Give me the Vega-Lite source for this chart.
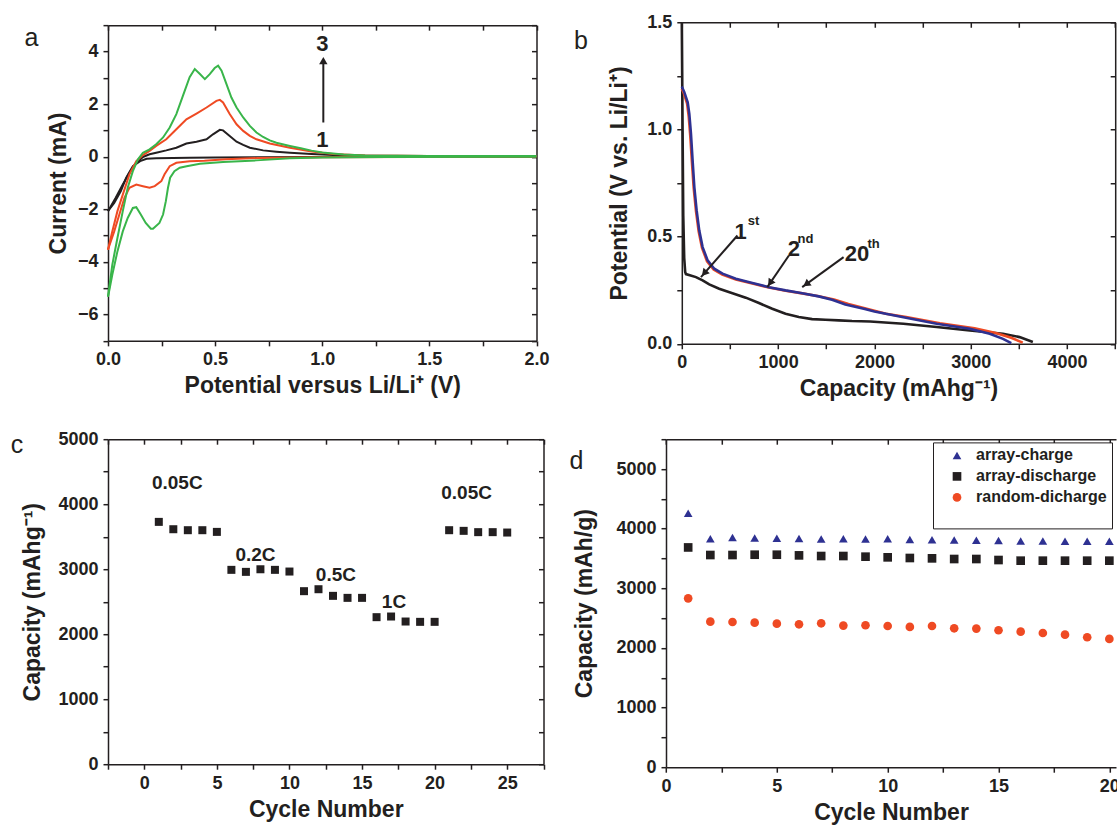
{
"$schema": "https://vega.github.io/schema/vega-lite/v6.json",
"padding": {"left": 10, "top": 13, "right": 0, "bottom": 0},
"background": "white",
"config": {
 "view": {"stroke": null},
 "font": "Liberation Sans",
 "axis": {"labelFont": "Liberation Sans", "labelFontWeight": "bold", "labelFontSize": 18, "labelColor": "#231f20", "titleFont": "Liberation Sans", "titleFontWeight": "bold", "titleFontSize": 23, "titleColor": "#231f20", "domainColor": "#231f20", "domainWidth": 1.5, "tickColor": "#231f20", "tickWidth": 1.5, "tickSize": 5, "grid": false, "labelOverlap": false, "labelFlush": false, "labelPadding": 5, "titlePadding": 6},
 "title": {"font": "Liberation Sans", "fontSize": 25, "fontWeight": "normal", "color": "#231f20", "anchor": "start", "frame": "group", "baseline": "alphabetic", "offset": 0}
},
"datasets": {
 "cv": [
  {"c":"1","b":"up","v":0,"I":-2.07},{"c":"1","b":"up","v":0.036,"I":-1.56},{"c":"1","b":"up","v":0.069,"I":-1.06},{"c":"1","b":"up","v":0.1,"I":-0.61},{"c":"1","b":"up","v":0.132,"I":-0.23},{"c":"1","b":"up","v":0.163,"I":-0.01},{"c":"1","b":"up","v":0.194,"I":0.09},{"c":"1","b":"up","v":0.225,"I":0.15},{"c":"1","b":"up","v":0.272,"I":0.24},{"c":"1","b":"up","v":0.319,"I":0.34},{"c":"1","b":"up","v":0.366,"I":0.5},{"c":"1","b":"up","v":0.413,"I":0.57},{"c":"1","b":"up","v":0.46,"I":0.66},{"c":"1","b":"up","v":0.49,"I":0.85},{"c":"1","b":"up","v":0.522,"I":1.02},{"c":"1","b":"up","v":0.537,"I":1.0},{"c":"1","b":"up","v":0.568,"I":0.79},{"c":"1","b":"up","v":0.6,"I":0.57},{"c":"1","b":"up","v":0.631,"I":0.45},{"c":"1","b":"up","v":0.662,"I":0.34},{"c":"1","b":"up","v":0.724,"I":0.24},{"c":"1","b":"up","v":0.786,"I":0.19},{"c":"1","b":"up","v":0.849,"I":0.15},{"c":"1","b":"up","v":0.95,"I":0.1},{"c":"1","b":"up","v":1.05,"I":0.06},{"c":"1","b":"up","v":1.2,"I":0.04},{"c":"1","b":"up","v":1.5,"I":0.03},{"c":"1","b":"up","v":2.0,"I":0.02},
  {"c":"1","b":"dn","v":0,"I":-2.07},{"c":"1","b":"dn","v":0.005,"I":-2.01},{"c":"1","b":"dn","v":0.029,"I":-1.76},{"c":"1","b":"dn","v":0.06,"I":-1.31},{"c":"1","b":"dn","v":0.085,"I":-0.8},{"c":"1","b":"dn","v":0.116,"I":-0.36},{"c":"1","b":"dn","v":0.15,"I":-0.17},{"c":"1","b":"dn","v":0.18,"I":-0.08},{"c":"1","b":"dn","v":0.225,"I":-0.06},{"c":"1","b":"dn","v":0.381,"I":-0.04},{"c":"1","b":"dn","v":0.5,"I":-0.03},{"c":"1","b":"dn","v":1.0,"I":-0.01},{"c":"1","b":"dn","v":2.0,"I":0.0},
  {"c":"2","b":"up","v":0,"I":-3.54},{"c":"2","b":"up","v":0.02,"I":-2.84},{"c":"2","b":"up","v":0.044,"I":-2.07},{"c":"2","b":"up","v":0.069,"I":-1.44},{"c":"2","b":"up","v":0.1,"I":-0.67},{"c":"2","b":"up","v":0.132,"I":-0.17},{"c":"2","b":"up","v":0.163,"I":0.06},{"c":"2","b":"up","v":0.194,"I":0.22},{"c":"2","b":"up","v":0.225,"I":0.41},{"c":"2","b":"up","v":0.272,"I":0.66},{"c":"2","b":"up","v":0.319,"I":1.04},{"c":"2","b":"up","v":0.366,"I":1.42},{"c":"2","b":"up","v":0.413,"I":1.64},{"c":"2","b":"up","v":0.46,"I":1.87},{"c":"2","b":"up","v":0.506,"I":2.12},{"c":"2","b":"up","v":0.522,"I":2.16},{"c":"2","b":"up","v":0.537,"I":2.06},{"c":"2","b":"up","v":0.568,"I":1.62},{"c":"2","b":"up","v":0.6,"I":1.23},{"c":"2","b":"up","v":0.631,"I":0.98},{"c":"2","b":"up","v":0.662,"I":0.79},{"c":"2","b":"up","v":0.693,"I":0.66},{"c":"2","b":"up","v":0.755,"I":0.5},{"c":"2","b":"up","v":0.849,"I":0.34},{"c":"2","b":"up","v":0.95,"I":0.2},{"c":"2","b":"up","v":1.05,"I":0.1},{"c":"2","b":"up","v":1.2,"I":0.05},{"c":"2","b":"up","v":1.5,"I":0.03},{"c":"2","b":"up","v":2.0,"I":0.03},
  {"c":"2","b":"dn","v":0,"I":-3.54},{"c":"2","b":"dn","v":0.005,"I":-3.41},{"c":"2","b":"dn","v":0.029,"I":-2.84},{"c":"2","b":"dn","v":0.053,"I":-2.2},{"c":"2","b":"dn","v":0.077,"I":-1.56},{"c":"2","b":"dn","v":0.1,"I":-1.18},{"c":"2","b":"dn","v":0.132,"I":-1.06},{"c":"2","b":"dn","v":0.163,"I":-1.12},{"c":"2","b":"dn","v":0.194,"I":-1.18},{"c":"2","b":"dn","v":0.218,"I":-1.12},{"c":"2","b":"dn","v":0.249,"I":-0.93},{"c":"2","b":"dn","v":0.264,"I":-0.67},{"c":"2","b":"dn","v":0.288,"I":-0.36},{"c":"2","b":"dn","v":0.319,"I":-0.23},{"c":"2","b":"dn","v":0.381,"I":-0.17},{"c":"2","b":"dn","v":0.45,"I":-0.15},{"c":"2","b":"dn","v":0.55,"I":-0.1},{"c":"2","b":"dn","v":0.7,"I":-0.05},{"c":"2","b":"dn","v":1.0,"I":-0.02},{"c":"2","b":"dn","v":2.0,"I":0.0},
  {"c":"3","b":"up","v":0,"I":-5.32},{"c":"3","b":"up","v":0.02,"I":-4.11},{"c":"3","b":"up","v":0.044,"I":-3.09},{"c":"3","b":"up","v":0.069,"I":-2.07},{"c":"3","b":"up","v":0.092,"I":-1.18},{"c":"3","b":"up","v":0.116,"I":-0.55},{"c":"3","b":"up","v":0.14,"I":-0.1},{"c":"3","b":"up","v":0.163,"I":0.15},{"c":"3","b":"up","v":0.194,"I":0.28},{"c":"3","b":"up","v":0.225,"I":0.47},{"c":"3","b":"up","v":0.257,"I":0.73},{"c":"3","b":"up","v":0.288,"I":1.11},{"c":"3","b":"up","v":0.319,"I":1.62},{"c":"3","b":"up","v":0.35,"I":2.32},{"c":"3","b":"up","v":0.381,"I":3.02},{"c":"3","b":"up","v":0.405,"I":3.33},{"c":"3","b":"up","v":0.429,"I":3.14},{"c":"3","b":"up","v":0.452,"I":2.95},{"c":"3","b":"up","v":0.475,"I":3.14},{"c":"3","b":"up","v":0.498,"I":3.37},{"c":"3","b":"up","v":0.514,"I":3.46},{"c":"3","b":"up","v":0.53,"I":3.27},{"c":"3","b":"up","v":0.553,"I":2.76},{"c":"3","b":"up","v":0.576,"I":2.25},{"c":"3","b":"up","v":0.6,"I":1.87},{"c":"3","b":"up","v":0.631,"I":1.49},{"c":"3","b":"up","v":0.662,"I":1.17},{"c":"3","b":"up","v":0.693,"I":0.92},{"c":"3","b":"up","v":0.724,"I":0.75},{"c":"3","b":"up","v":0.755,"I":0.62},{"c":"3","b":"up","v":0.786,"I":0.53},{"c":"3","b":"up","v":0.849,"I":0.41},{"c":"3","b":"up","v":0.9,"I":0.32},{"c":"3","b":"up","v":0.95,"I":0.23},{"c":"3","b":"up","v":1.0,"I":0.16},{"c":"3","b":"up","v":1.1,"I":0.08},{"c":"3","b":"up","v":1.2,"I":0.05},{"c":"3","b":"up","v":1.5,"I":0.03},{"c":"3","b":"up","v":2.0,"I":0.03},
  {"c":"3","b":"dn","v":0,"I":-5.32},{"c":"3","b":"dn","v":0.005,"I":-5.13},{"c":"3","b":"dn","v":0.02,"I":-4.49},{"c":"3","b":"dn","v":0.044,"I":-3.6},{"c":"3","b":"dn","v":0.069,"I":-2.84},{"c":"3","b":"dn","v":0.092,"I":-2.33},{"c":"3","b":"dn","v":0.116,"I":-1.95},{"c":"3","b":"dn","v":0.132,"I":-1.92},{"c":"3","b":"dn","v":0.153,"I":-2.2},{"c":"3","b":"dn","v":0.176,"I":-2.52},{"c":"3","b":"dn","v":0.2,"I":-2.74},{"c":"3","b":"dn","v":0.21,"I":-2.74},{"c":"3","b":"dn","v":0.24,"I":-2.52},{"c":"3","b":"dn","v":0.257,"I":-2.2},{"c":"3","b":"dn","v":0.27,"I":-1.69},{"c":"3","b":"dn","v":0.28,"I":-1.18},{"c":"3","b":"dn","v":0.29,"I":-0.8},{"c":"3","b":"dn","v":0.31,"I":-0.55},{"c":"3","b":"dn","v":0.335,"I":-0.42},{"c":"3","b":"dn","v":0.367,"I":-0.36},{"c":"3","b":"dn","v":0.429,"I":-0.27},{"c":"3","b":"dn","v":0.537,"I":-0.2},{"c":"3","b":"dn","v":0.693,"I":-0.14},{"c":"3","b":"dn","v":0.849,"I":-0.06},{"c":"3","b":"dn","v":1.0,"I":-0.03},{"c":"3","b":"dn","v":1.3,"I":-0.01},{"c":"3","b":"dn","v":2.0,"I":0.0}
 ],
 "aText": [{"t":"3","v":1.0,"I":4.3},{"t":"1","v":1.0,"I":0.62}],
 "aArrow": [{"v":1.005,"I":1.3,"I2":3.6}],
 "aHead": [{"v":1.005,"I":3.65}],
 "gd": [
  {"s":"1st","x":0,"y":1.5},{"s":"1st","x":8,"y":1.0},{"s":"1st","x":15,"y":0.6},{"s":"1st","x":25,"y":0.4},{"s":"1st","x":35,"y":0.335},{"s":"1st","x":43,"y":0.325},{"s":"1st","x":147,"y":0.311},{"s":"1st","x":216,"y":0.296},{"s":"1st","x":285,"y":0.277},{"s":"1st","x":388,"y":0.257},{"s":"1st","x":526,"y":0.236},{"s":"1st","x":664,"y":0.215},{"s":"1st","x":801,"y":0.19},{"s":"1st","x":939,"y":0.163},{"s":"1st","x":1077,"y":0.14},{"s":"1st","x":1215,"y":0.125},{"s":"1st","x":1353,"y":0.115},{"s":"1st","x":1491,"y":0.112},{"s":"1st","x":1629,"y":0.109},{"s":"1st","x":1767,"y":0.106},{"s":"1st","x":1956,"y":0.104},{"s":"1st","x":2301,"y":0.093},{"s":"1st","x":2646,"y":0.078},{"s":"1st","x":2990,"y":0.062},{"s":"1st","x":3335,"y":0.047},{"s":"1st","x":3507,"y":0.031},{"s":"1st","x":3645,"y":0.008},
  {"s":"2nd","x":0,"y":1.19},{"s":"2nd","x":20,"y":1.17},{"s":"2nd","x":55,"y":1.12},{"s":"2nd","x":72,"y":1.06},{"s":"2nd","x":88,"y":0.97},{"s":"2nd","x":105,"y":0.85},{"s":"2nd","x":123,"y":0.73},{"s":"2nd","x":147,"y":0.62},{"s":"2nd","x":175,"y":0.525},{"s":"2nd","x":210,"y":0.447},{"s":"2nd","x":262,"y":0.385},{"s":"2nd","x":330,"y":0.346},{"s":"2nd","x":420,"y":0.323},{"s":"2nd","x":561,"y":0.3},{"s":"2nd","x":733,"y":0.281},{"s":"2nd","x":905,"y":0.262},{"s":"2nd","x":1077,"y":0.247},{"s":"2nd","x":1250,"y":0.235},{"s":"2nd","x":1422,"y":0.222},{"s":"2nd","x":1580,"y":0.207},{"s":"2nd","x":1730,"y":0.185},{"s":"2nd","x":1930,"y":0.162},{"s":"2nd","x":2120,"y":0.14},{"s":"2nd","x":2330,"y":0.125},{"s":"2nd","x":2680,"y":0.095},{"s":"2nd","x":3040,"y":0.072},{"s":"2nd","x":3260,"y":0.05},{"s":"2nd","x":3420,"y":0.028},{"s":"2nd","x":3540,"y":0.005},
  {"s":"20th","x":0,"y":1.2},{"s":"20th","x":26,"y":1.174},{"s":"20th","x":61,"y":1.127},{"s":"20th","x":78,"y":1.073},{"s":"20th","x":95,"y":0.98},{"s":"20th","x":112,"y":0.856},{"s":"20th","x":130,"y":0.731},{"s":"20th","x":154,"y":0.622},{"s":"20th","x":181,"y":0.529},{"s":"20th","x":216,"y":0.451},{"s":"20th","x":268,"y":0.389},{"s":"20th","x":337,"y":0.35},{"s":"20th","x":423,"y":0.327},{"s":"20th","x":561,"y":0.303},{"s":"20th","x":733,"y":0.283},{"s":"20th","x":905,"y":0.264},{"s":"20th","x":1077,"y":0.249},{"s":"20th","x":1250,"y":0.236},{"s":"20th","x":1422,"y":0.221},{"s":"20th","x":1560,"y":0.205},{"s":"20th","x":1698,"y":0.183},{"s":"20th","x":1900,"y":0.162},{"s":"20th","x":2000,"y":0.15},{"s":"20th","x":2301,"y":0.124},{"s":"20th","x":2646,"y":0.093},{"s":"20th","x":2990,"y":0.07},{"s":"20th","x":3197,"y":0.047},{"s":"20th","x":3335,"y":0.023},{"s":"20th","x":3421,"y":0.003}
 ],
 "bNum": [{"t":"1","x":612,"y":0.52},{"t":"2","x":1163,"y":0.443},{"t":"20","x":1819,"y":0.42}],
 "bSup": [{"t":"st","x":746,"y":0.571},{"t":"nd","x":1284,"y":0.49},{"t":"th","x":1991,"y":0.467}],
 "bArrow": [{"k":"1st","x":578,"y":0.505,"x2":199,"y2":0.311},{"k":"2nd","x":1112,"y":0.412,"x2":888,"y2":0.264},{"k":"20th","x":1680,"y":0.404,"x2":1250,"y2":0.264}],
 "bHead": [{"k":"1st","x":233,"y":0.329},{"k":"2nd","x":917,"y":0.283},{"k":"20th","x":1292,"y":0.278}],
 "rate": [
  {"n":1,"cap":3728},{"n":2,"cap":3615},{"n":3,"cap":3600},{"n":4,"cap":3600},{"n":5,"cap":3574},
  {"n":6,"cap":2990},{"n":7,"cap":2959},{"n":8,"cap":2999},{"n":9,"cap":2990},{"n":10,"cap":2964},
  {"n":11,"cap":2662},{"n":12,"cap":2692},{"n":13,"cap":2590},{"n":14,"cap":2559},{"n":15,"cap":2559},
  {"n":16,"cap":2262},{"n":17,"cap":2272},{"n":18,"cap":2195},{"n":19,"cap":2190},{"n":20,"cap":2190},
  {"n":21,"cap":3600},{"n":22,"cap":3590},{"n":23,"cap":3570},{"n":24,"cap":3570},{"n":25,"cap":3564}
 ],
 "rateText": [{"t":"0.05C","n":2.27,"cap":4332},{"t":"0.2C","n":7.66,"cap":3215},{"t":"0.5C","n":13.2,"cap":2908},{"t":"1C","n":17.2,"cap":2497},{"t":"0.05C","n":22.2,"cap":4178}],
 "cyc": [
  {"s":"array-charge","n":1,"cap":4260},{"s":"array-charge","n":2,"cap":3830},{"s":"array-charge","n":3,"cap":3850},{"s":"array-charge","n":4,"cap":3845},{"s":"array-charge","n":5,"cap":3840},{"s":"array-charge","n":6,"cap":3835},{"s":"array-charge","n":7,"cap":3825},{"s":"array-charge","n":8,"cap":3830},{"s":"array-charge","n":9,"cap":3825},{"s":"array-charge","n":10,"cap":3830},{"s":"array-charge","n":11,"cap":3820},{"s":"array-charge","n":12,"cap":3815},{"s":"array-charge","n":13,"cap":3810},{"s":"array-charge","n":14,"cap":3805},{"s":"array-charge","n":15,"cap":3800},{"s":"array-charge","n":16,"cap":3795},{"s":"array-charge","n":17,"cap":3795},{"s":"array-charge","n":18,"cap":3790},{"s":"array-charge","n":19,"cap":3790},{"s":"array-charge","n":20,"cap":3790},
  {"s":"array-discharge","n":1,"cap":3685},{"s":"array-discharge","n":2,"cap":3558},{"s":"array-discharge","n":3,"cap":3558},{"s":"array-discharge","n":4,"cap":3563},{"s":"array-discharge","n":5,"cap":3563},{"s":"array-discharge","n":6,"cap":3552},{"s":"array-discharge","n":7,"cap":3541},{"s":"array-discharge","n":8,"cap":3541},{"s":"array-discharge","n":9,"cap":3530},{"s":"array-discharge","n":10,"cap":3519},{"s":"array-discharge","n":11,"cap":3508},{"s":"array-discharge","n":12,"cap":3502},{"s":"array-discharge","n":13,"cap":3491},{"s":"array-discharge","n":14,"cap":3491},{"s":"array-discharge","n":15,"cap":3474},{"s":"array-discharge","n":16,"cap":3463},{"s":"array-discharge","n":17,"cap":3463},{"s":"array-discharge","n":18,"cap":3463},{"s":"array-discharge","n":19,"cap":3463},{"s":"array-discharge","n":20,"cap":3463},
  {"s":"random-dicharge","n":1,"cap":2831},{"s":"random-dicharge","n":2,"cap":2441},{"s":"random-dicharge","n":3,"cap":2435},{"s":"random-dicharge","n":4,"cap":2424},{"s":"random-dicharge","n":5,"cap":2407},{"s":"random-dicharge","n":6,"cap":2396},{"s":"random-dicharge","n":7,"cap":2413},{"s":"random-dicharge","n":8,"cap":2374},{"s":"random-dicharge","n":9,"cap":2380},{"s":"random-dicharge","n":10,"cap":2368},{"s":"random-dicharge","n":11,"cap":2352},{"s":"random-dicharge","n":12,"cap":2368},{"s":"random-dicharge","n":13,"cap":2329},{"s":"random-dicharge","n":14,"cap":2324},{"s":"random-dicharge","n":15,"cap":2296},{"s":"random-dicharge","n":16,"cap":2273},{"s":"random-dicharge","n":17,"cap":2251},{"s":"random-dicharge","n":18,"cap":2223},{"s":"random-dicharge","n":19,"cap":2179},{"s":"random-dicharge","n":20,"cap":2151}
 ]
},
"columns": 2,
"spacing": {"row": 95.2, "column": 137.8},
"align": "each",
"center": {"row": true, "column": false},
"bounds": "flush",
"resolve": {"scale": {"color": "independent", "shape": "independent"}, "legend": {"color": "independent", "shape": "independent"}},
"concat": [
  {"width": 428.5, "height": 315.7,
   "title": {"text": "a", "dx": -83.5, "dy": 39},
   "layer": [
    {"data": {"name": "cv"}, "mark": {"type": "line", "strokeWidth": 2},
     "encoding": {
      "x": {"field": "v", "type": "quantitative", "scale": {"domain": [0, 2], "nice": false, "zero": false},
            "axis": {"orient": "bottom", "title": "Potential versus Li/Li⁺ (V)", "values": [0,0.25,0.5,0.75,1,1.25,1.5,1.75,2], "format": ".1f", "labelExpr": "(datum.value*2)%1===0 ? datum.label : ''"}},
      "y": {"field": "I", "type": "quantitative", "scale": {"domain": [-7, 5], "nice": false, "zero": false},
            "axis": {"orient": "left", "title": "Current (mA)", "values": [-7,-6,-5,-4,-3,-2,-1,0,1,2,3,4,5], "format": "d", "labelExpr": "datum.value%2===0 ? datum.label : ''", "titlePadding": 7}},
      "color": {"field": "c", "type": "nominal", "scale": {"domain": ["1","2","3"], "range": ["#231f20","#ef4a23","#39b54a"]}, "legend": null},
      "detail": {"field": "b"}
     }},
    {"data": {"name": "aText"}, "mark": {"type": "text", "font": "Liberation Sans", "fontSize": 22, "fontWeight": "bold", "color": "#231f20"},
     "encoding": {
      "x": {"field": "v", "type": "quantitative", "scale": {"domain": [0, 2], "nice": false, "zero": false}, "axis": {"orient": "top", "labels": false, "title": null, "values": [0,0.25,0.5,0.75,1,1.25,1.5,1.75,2], "tickSize": -5}},
      "y": {"field": "I", "type": "quantitative", "scale": {"domain": [-7, 5], "nice": false, "zero": false}, "axis": {"orient": "right", "labels": false, "title": null, "values": [-7,-6,-5,-4,-3,-2,-1,0,1,2,3,4,5], "tickSize": -5}},
      "text": {"field": "t"}
     }},
    {"data": {"name": "aArrow"}, "mark": {"type": "rule", "strokeWidth": 2, "color": "#231f20"},
     "encoding": {"x": {"field": "v", "type": "quantitative", "axis": null}, "y": {"field": "I", "type": "quantitative", "axis": null}, "y2": {"field": "I2"}}},
    {"data": {"name": "aHead"}, "mark": {"type": "point", "shape": "triangle-up", "filled": true, "size": 70, "color": "#231f20", "opacity": 1},
     "encoding": {"x": {"field": "v", "type": "quantitative", "axis": null}, "y": {"field": "I", "type": "quantitative", "axis": null}}}
   ],
   "resolve": {"axis": {"x": "independent", "y": "independent"}}
  },
  {"width": 433.4, "height": 321.5,
   "title": {"text": "b", "dx": -107.8, "dy": 45},
   "layer": [
    {"data": {"name": "gd"}, "mark": {"type": "line", "strokeWidth": 2.6},
     "encoding": {
      "x": {"field": "x", "type": "quantitative", "scale": {"domain": [0, 4500], "nice": false, "zero": false},
            "axis": {"orient": "bottom", "title": "Capacity (mAhg⁻¹)", "values": [0,500,1000,1500,2000,2500,3000,3500,4000,4500], "format": "d", "labelExpr": "datum.value%1000===0 ? datum.label : ''"}},
      "y": {"field": "y", "type": "quantitative", "scale": {"domain": [0, 1.5], "nice": false, "zero": false},
            "axis": {"orient": "left", "title": "Potential  (V vs. Li/Li⁺)", "values": [0,0.25,0.5,0.75,1,1.25,1.5], "format": ".1f", "labelExpr": "(datum.value*2)%1===0 ? datum.label : ''", "titlePadding": 15}},
      "color": {"field": "s", "type": "nominal", "scale": {"domain": ["1st","2nd","20th"], "range": ["#231f20","#ef4a23","#2e3192"]}, "legend": null}
     }},
    {"data": {"name": "bNum"}, "mark": {"type": "text", "font": "Liberation Sans", "fontSize": 22, "fontWeight": "bold", "color": "#231f20"},
     "encoding": {
      "x": {"field": "x", "type": "quantitative", "scale": {"domain": [0, 4500], "nice": false, "zero": false}, "axis": {"orient": "top", "labels": false, "title": null, "values": [0,500,1000,1500,2000,2500,3000,3500,4000,4500], "tickSize": -5}},
      "y": {"field": "y", "type": "quantitative", "scale": {"domain": [0, 1.5], "nice": false, "zero": false}, "axis": {"orient": "right", "labels": false, "title": null, "values": [0,0.25,0.5,0.75,1,1.25,1.5], "tickSize": -5}},
      "text": {"field": "t"}
     }},
    {"data": {"name": "bSup"}, "mark": {"type": "text", "font": "Liberation Sans", "fontSize": 13, "fontWeight": "bold", "color": "#231f20"},
     "encoding": {"x": {"field": "x", "type": "quantitative", "axis": null}, "y": {"field": "y", "type": "quantitative", "axis": null}, "text": {"field": "t"}}},
    {"data": {"name": "bArrow"}, "mark": {"type": "rule", "strokeWidth": 2, "color": "#231f20"},
     "encoding": {"x": {"field": "x", "type": "quantitative", "axis": null}, "y": {"field": "y", "type": "quantitative", "axis": null}, "x2": {"field": "x2"}, "y2": {"field": "y2"}}},
    {"data": {"name": "bHead"}, "transform": [{"filter": "datum.k === '1st'"}], "mark": {"type": "point", "shape": "triangle-up", "filled": true, "size": 70, "angle": 221, "color": "#231f20", "opacity": 1},
     "encoding": {"x": {"field": "x", "type": "quantitative", "axis": null}, "y": {"field": "y", "type": "quantitative", "axis": null}}},
    {"data": {"name": "bHead"}, "transform": [{"filter": "datum.k === '2nd'"}], "mark": {"type": "point", "shape": "triangle-up", "filled": true, "size": 70, "angle": 214, "color": "#231f20", "opacity": 1},
     "encoding": {"x": {"field": "x", "type": "quantitative", "axis": null}, "y": {"field": "y", "type": "quantitative", "axis": null}}},
    {"data": {"name": "bHead"}, "transform": [{"filter": "datum.k === '20th'"}], "mark": {"type": "point", "shape": "triangle-up", "filled": true, "size": 70, "angle": 234, "color": "#231f20", "opacity": 1},
     "encoding": {"x": {"field": "x", "type": "quantitative", "axis": null}, "y": {"field": "y", "type": "quantitative", "axis": null}}}
   ],
   "resolve": {"axis": {"x": "independent", "y": "independent"}}
  },
  {"width": 435.5, "height": 325,
   "title": {"text": "c", "dx": -97.3, "dy": 32},
   "layer": [
    {"data": {"name": "rate"}, "mark": {"type": "point", "shape": "square", "filled": true, "size": 64, "color": "#231f20", "opacity": 1},
     "encoding": {
      "x": {"field": "n", "type": "quantitative", "scale": {"domain": [-2.5, 27.5], "nice": false, "zero": false},
            "axis": {"orient": "bottom", "title": "Cycle Number", "values": [-2.5,0,2.5,5,7.5,10,12.5,15,17.5,20,22.5,25,27.5], "format": "d", "labelExpr": "datum.value%5===0 ? datum.label : ''"}},
      "y": {"field": "cap", "type": "quantitative", "scale": {"domain": [0, 5000], "nice": false, "zero": false},
            "axis": {"orient": "left", "title": "Capacity  (mAhg⁻¹)", "values": [0,500,1000,1500,2000,2500,3000,3500,4000,4500,5000], "format": "d", "labelExpr": "datum.value%1000===0 ? datum.label : ''", "titlePadding": 13}}
     }},
    {"data": {"name": "rateText"}, "mark": {"type": "text", "font": "Liberation Sans", "fontSize": 19, "fontWeight": "bold", "color": "#231f20"},
     "encoding": {
      "x": {"field": "n", "type": "quantitative", "scale": {"domain": [-2.5, 27.5], "nice": false, "zero": false}, "axis": {"orient": "top", "labels": false, "title": null, "values": [-2.5,0,2.5,5,7.5,10,12.5,15,17.5,20,22.5,25,27.5], "tickSize": -5}},
      "y": {"field": "cap", "type": "quantitative", "scale": {"domain": [0, 5000], "nice": false, "zero": false}, "axis": {"orient": "right", "labels": false, "title": null, "values": [0,500,1000,1500,2000,2500,3000,3500,4000,4500,5000], "tickSize": -5}},
      "text": {"field": "t"}
     }}
   ],
   "resolve": {"axis": {"x": "independent", "y": "independent"}}
  },
  {"width": 434.2, "height": 328,
   "title": {"text": "d", "dx": -112.3, "dy": 48},
   "layer": [
    {"data": {"name": "cyc"}, "transform": [{"filter": "datum.s !== 'random-dicharge'"}],
     "mark": {"type": "point", "filled": true, "size": 75, "opacity": 1},
     "encoding": {
      "x": {"field": "n", "type": "quantitative", "scale": {"domain": [0, 20.3], "range": [-15.8, 434.2], "nice": false, "zero": false},
            "axis": {"orient": "bottom", "title": "Cycle Number", "values": [0,2.5,5,7.5,10,12.5,15,17.5,20], "format": "d", "labelExpr": "datum.value%5===0 ? datum.label : ''"}},
      "y": {"field": "cap", "type": "quantitative", "scale": {"domain": [0, 5500], "nice": false, "zero": false},
            "axis": {"orient": "left", "offset": 15.8, "title": "Capacity (mAh/g)", "values": [0,500,1000,1500,2000,2500,3000,3500,4000,4500,5000,5500], "format": "d", "labelExpr": "datum.value%1000===0 ? datum.label : ''", "titlePadding": 19}},
      "color": {"field": "s", "type": "nominal", "scale": {"domain": ["array-charge","array-discharge","random-dicharge"], "range": ["#2e3192","#231f20","#ef4a23"]},
                "legend": {"orient": "none", "legendX": 251.2, "legendY": 3.2, "title": "\u200b", "titleOrient": "bottom", "titleFontSize": 14, "titlePadding": 4, "strokeColor": "#231f20", "fillColor": "white", "padding": 5, "labelFont": "Liberation Sans", "labelFontWeight": "bold", "labelFontSize": 16, "labelColor": "#231f20", "symbolOffset": 11, "labelOffset": 11, "rowPadding": 5, "symbolSize": 75, "symbolStrokeWidth": 0}},
      "shape": {"field": "s", "type": "nominal", "scale": {"domain": ["array-charge","array-discharge","random-dicharge"], "range": ["triangle-up","square","circle"]},
                "legend": {"orient": "none", "legendX": 251.2, "legendY": 3.2, "title": "\u200b", "titleOrient": "bottom", "titleFontSize": 14, "titlePadding": 4, "strokeColor": "#231f20", "fillColor": "white", "padding": 5, "labelFont": "Liberation Sans", "labelFontWeight": "bold", "labelFontSize": 16, "labelColor": "#231f20", "symbolOffset": 11, "labelOffset": 11, "rowPadding": 5, "symbolSize": 75, "symbolStrokeWidth": 0}}
     }},
    {"data": {"name": "cyc"}, "transform": [{"filter": "datum.s === 'random-dicharge'"}],
     "mark": {"type": "point", "filled": true, "size": 75, "opacity": 1},
     "encoding": {
      "x": {"field": "n", "type": "quantitative", "scale": {"domain": [0, 20.3], "range": [-15.8, 434.2], "nice": false, "zero": false}, "axis": {"orient": "top", "labels": false, "title": null, "values": [0,2.5,5,7.5,10,12.5,15,17.5,20], "tickSize": -5}},
      "y": {"field": "cap", "type": "quantitative", "scale": {"domain": [0, 5500], "nice": false, "zero": false}, "axis": null},
      "color": {"field": "s", "type": "nominal", "scale": {"domain": ["array-charge","array-discharge","random-dicharge"], "range": ["#2e3192","#231f20","#ef4a23"]},
                "legend": {"orient": "none", "legendX": 251.2, "legendY": 3.2, "title": "\u200b", "titleOrient": "bottom", "titleFontSize": 14, "titlePadding": 4, "strokeColor": "#231f20", "fillColor": "white", "padding": 5, "labelFont": "Liberation Sans", "labelFontWeight": "bold", "labelFontSize": 16, "labelColor": "#231f20", "symbolOffset": 11, "labelOffset": 11, "rowPadding": 5, "symbolSize": 75, "symbolStrokeWidth": 0}},
      "shape": {"field": "s", "type": "nominal", "scale": {"domain": ["array-charge","array-discharge","random-dicharge"], "range": ["triangle-up","square","circle"]},
                "legend": {"orient": "none", "legendX": 251.2, "legendY": 3.2, "title": "\u200b", "titleOrient": "bottom", "titleFontSize": 14, "titlePadding": 4, "strokeColor": "#231f20", "fillColor": "white", "padding": 5, "labelFont": "Liberation Sans", "labelFontWeight": "bold", "labelFontSize": 16, "labelColor": "#231f20", "symbolOffset": 11, "labelOffset": 11, "rowPadding": 5, "symbolSize": 75, "symbolStrokeWidth": 0}}
     }}
   ],
   "resolve": {"axis": {"x": "independent", "y": "independent"}}
  }
]
}
